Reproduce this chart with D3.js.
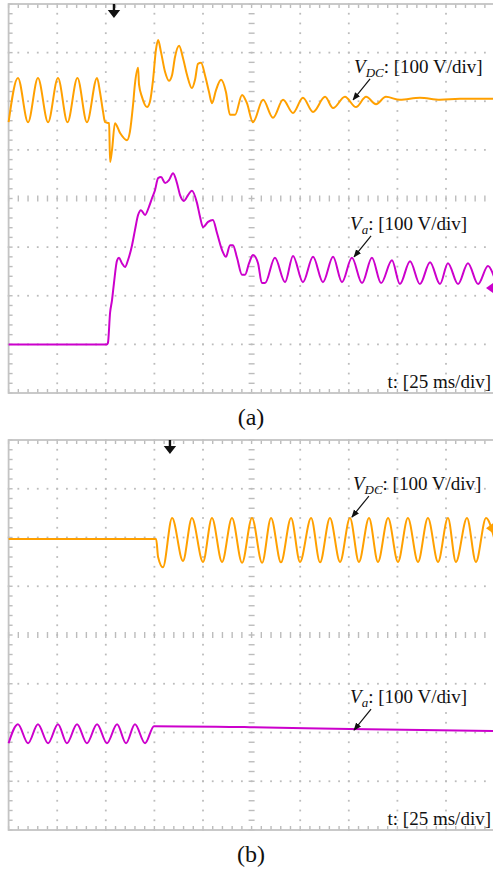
<!DOCTYPE html>
<html>
<head>
<meta charset="utf-8">
<script src="https://cdn.jsdelivr.net/npm/d3@7"></script>
<style>
  body { margin: 0; background: #fff; }
  svg { display: block; }
  text { font-family: "Liberation Serif", "Times New Roman", serif; fill: #111; }
</style>
</head>
<body>
<div id="chart"></div>
<script>
//////////////////////////////////////////////////////////////
////////////////////////// Data //////////////////////////////
//////////////////////////////////////////////////////////////

//time in ms (25 ms/div), voltage in V relative to screen centre (100 V/div)

//(a) V_DC
var aDcT = [0, 4.8, 10.0, 15.1, 20.3, 25.4, 30.3, 35.4, 40.3, 45.5,
	47.0, 48.6, 49.6, 51.7, 52.2, 53.2, 54.7, 57.3, 60.9, 62.4,
	64.0, 65.0, 66.6, 67.1, 68.6, 71.2, 72.7, 74.3, 75.8, 76.9,
	78.4, 80.5, 82.5, 84.1, 85.6, 87.7, 89.7, 91.8, 94.3, 95.9,
	97.4, 99.0, 101.0, 103.1, 104.6, 106.7, 109.3, 111.8, 113.9, 116.5,
	120.1, 122.6, 125.7, 130.9, 136.0, 141.2, 146.3, 151.4, 156.6, 162.8,
	166.9, 173.0, 178.7, 183.9, 189.0, 194.1, 201.3, 211.6, 221.9, 232.2,
	242.5, 250];
var aDcV = [157, 248, 157, 248, 157, 248, 157, 248, 157, 248,
	219, 178, 157, 155, 75, 100, 155, 135, 120, 137,
	192, 236, 269, 234, 209, 188, 199, 244, 306, 326,
	301, 260, 242, 254, 291, 314, 289, 254, 227, 244,
	277, 279, 254, 219, 196, 223, 244, 219, 172, 172,
	213, 196, 157, 203, 166, 203, 176, 207, 178, 209,
	186, 209, 188, 209, 194, 209, 203, 207, 203, 205,
	205, 205];

//(a) V_a
var aVaT = [0, 50.6, 51.1, 52.2, 53.2, 54.2, 55.8, 56.8, 58.3, 59.9,
	61.4, 63.5, 65.0, 66.6, 68.1, 70.2, 72.2, 73.8, 75.3, 76.9,
	78.4, 80.5, 82.5, 84.6, 86.6, 88.2, 90.2, 92.3, 94.3, 96.9,
	98.5, 100.0, 102.6, 105.1, 107.2, 109.8, 111.8, 113.9, 115.4, 117.5,
	120.1, 121.6, 123.7, 125.7, 128.3, 130.3, 131.9, 137.0, 142.2, 146.3,
	151.4, 156.6, 161.7, 166.9, 171.5, 176.6, 181.8, 186.9, 191.6, 197.2,
	201.3, 206.5, 211.6, 216.8, 221.9, 226.0, 231.2, 236.3, 241.5, 246.6,
	250];
var aVaV = [-300, -300, -297, -235, -209, -174, -127, -122, -133, -141,
	-127, -96, -65, -34, -24, -34, -17, 1, 17, 42,
	44, 32, 38, 52, 32, 7, -5, 7, 16, -9,
	-38, -59, -48, -44, -71, -106, -120, -96, -96, -122,
	-157, -157, -133, -116, -133, -174, -174, -122, -172, -118,
	-172, -120, -172, -120, -172, -122, -174, -122, -174, -127,
	-176, -129, -176, -131, -176, -133, -176, -133, -176, -139,
	-164];

//(b) V_DC
var bDcT = [0, 75.9, 76.9, 79.4, 84.1, 89.7,
	94.3, 100.0, 104.6, 109.8, 114.9, 120.1, 125.2, 130.4, 135.0, 140.1,
	145.3, 149.9, 155.6, 160.2, 165.3, 170.5, 175.6, 180.2, 185.4, 190.0,
	195.2, 200.3, 205.4, 210.6, 215.7, 220.9, 226.0, 230.1, 235.8, 240.4,
	245.6, 250];
var bDcV = [197, 197, 160, 139, 240, 152,
	240, 150, 240, 150, 240, 148, 240, 148, 240, 149,
	240, 150, 240, 149, 240, 150, 240, 150, 240, 150,
	240, 150, 240, 150, 240, 150, 240, 150, 240, 150,
	240, 195];

//(b) V_a
var bVaT = [0, 4.8, 10.0, 15.1, 20.3, 25.4, 30.0, 35.2, 40.3, 45.5,
	50.6, 55.8, 60.4, 65.0, 70.2, 74.8, 124.2, 175.6, 250];
var bVaV = [-222, -183, -222, -183, -222, -183, -222, -183, -222, -183,
	-222, -183, -222, -183, -222, -187, -189, -193, -197];

//annotations: arrow tip on the trace (ms, V)
var labelNames = ["DC", "a", "DC", "a"];
var labelPanel = [0, 0, 1, 1];
var labelT = [177.2, 177.7, 176.6, 177.7];
var labelV = [203, -120, 242, -195];

var triggerT = [54.2, 83];           //trigger marker per panel
var markerV = [-184, 219];           //channel reference marker per panel
var panelNames = ["(a)", "(b)"];

//////////////////////////////////////////////////////////////
///////////////////////// Set up /////////////////////////////
//////////////////////////////////////////////////////////////

var W = 493, H = 870;
var orange = "#ffa000", magenta = "#cc00cc";
var gridCol = "#bcbcbc";

var svg = d3.select("#chart").append("svg")
	.attr("width", W)
	.attr("height", H);

svg.append("rect").attr("width", W).attr("height", H).attr("fill", "#fff");

var defs = svg.append("defs");
defs.append("marker")
	.attr("id", "arrowHead")
	.attr("viewBox", "0 0 10 10")
	.attr("refX", 9).attr("refY", 5)
	.attr("markerWidth", 8).attr("markerHeight", 8)
	.attr("markerUnits", "userSpaceOnUse")
	.attr("orient", "auto")
	.append("path")
	.attr("d", "M0,1 L10,5 L0,9 Z")
	.attr("fill", "#111");

var x = d3.scaleLinear().domain([0, 250]).range([8.6, 494.6]);

var panels = [
	{ top: 4, bottom: 393, label: 425,
	  traces: [{ t: aDcT, v: aDcV, col: orange }, { t: aVaT, v: aVaV, col: magenta }],
	  markerCol: magenta },
	{ top: 440, bottom: 830, label: 862,
	  traces: [{ t: bDcT, v: bDcV, col: orange }, { t: bVaT, v: bVaV, col: magenta }],
	  markerCol: orange }
];

panels.forEach(function(p, pi) {
	var y = d3.scaleLinear().domain([-400, 400]).range([p.bottom, p.top]);
	var g = svg.append("g").attr("class", "panel" + pi);

	///////////////////////// Grid /////////////////////////
	var minorT = d3.range(0, 250.01, 5);
	var minorV = d3.range(-400, 400.01, 20);
	var majorT = d3.range(25, 250, 25);
	var majorV = d3.range(-300, 301, 100);

	var dots = g.append("g").attr("fill", gridCol);
	majorT.forEach(function(t) {
		if (t === 125) return;
		minorV.forEach(function(v) {
			dots.append("rect").attr("x", x(t) - 0.9).attr("y", y(v) - 0.9)
				.attr("width", 1.8).attr("height", 1.8);
		});
	});
	majorV.forEach(function(v) {
		if (v === 0) return;
		minorT.forEach(function(t) {
			dots.append("rect").attr("x", x(t) - 0.9).attr("y", y(v) - 0.9)
				.attr("width", 1.8).attr("height", 1.8);
		});
	});

	var ticks = g.append("g").attr("stroke", gridCol).attr("stroke-width", 1.4);
	//centre cross
	minorT.forEach(function(t) {
		ticks.append("line").attr("x1", x(t)).attr("x2", x(t))
			.attr("y1", y(0) - 3).attr("y2", y(0) + 3);
		//top and bottom edge
		ticks.append("line").attr("x1", x(t)).attr("x2", x(t))
			.attr("y1", p.top).attr("y2", p.top + 4);
		ticks.append("line").attr("x1", x(t)).attr("x2", x(t))
			.attr("y1", p.bottom - 4).attr("y2", p.bottom);
	});
	minorV.forEach(function(v) {
		ticks.append("line").attr("x1", x(125) - 3).attr("x2", x(125) + 3)
			.attr("y1", y(v)).attr("y2", y(v));
		ticks.append("line").attr("x1", x(0)).attr("x2", x(0) + 4)
			.attr("y1", y(v)).attr("y2", y(v));
	});

	g.append("rect")
		.attr("x", x(0)).attr("y", p.top)
		.attr("width", x(250) - x(0)).attr("height", p.bottom - p.top)
		.attr("fill", "none")
		.attr("stroke", "#c4c4c4")
		.attr("stroke-width", 1.8);

	//////////////////////// Traces ////////////////////////
	p.traces.forEach(function(tr) {
		var pts = tr.t.map(function(t, i) { return [t, tr.v[i]]; });
		var line = d3.line()
			.x(function(d) { return x(d[0]); })
			.y(function(d) { return y(d[1]); })
			.curve(d3.curveMonotoneX);
		g.append("path")
			.datum(pts)
			.attr("d", line)
			.attr("fill", "none")
			.attr("stroke", tr.col)
			.attr("stroke-width", 2)
			.attr("stroke-linejoin", "round");
	});

	//trigger marker
	var tx = x(triggerT[pi]);
	g.append("path")
		.attr("d", "M" + (tx - 1.2) + "," + p.top + " h2.4 v6 h5 l-6.2,8 l-6.2,-8 h5 Z")
		.attr("fill", "#111");

	//channel reference marker at right edge
	var my = y(markerV[pi]);
	g.append("path")
		.attr("d", "M486," + my + " L493," + (my - 5) + " L493," + (my + 5) + " Z")
		.attr("fill", p.markerCol);

	//time base label
	g.append("text")
		.attr("x", 491).attr("y", p.bottom - 5)
		.attr("text-anchor", "end")
		.style("font-size", "19px")
		.text("t: [25 ms/div]");

	//panel caption
	svg.append("text")
		.attr("x", 251).attr("y", p.label)
		.attr("text-anchor", "middle")
		.style("font-size", "24px")
		.text(panelNames[pi]);

	///////////////////////// Labels /////////////////////////
	labelNames.forEach(function(name, i) {
		if (labelPanel[i] !== pi) return;
		var px = x(labelT[i]), py = y(labelV[i]);
		g.append("line")
			.attr("x1", px + 17).attr("y1", py - 21)
			.attr("x2", px).attr("y2", py)
			.attr("stroke", "#111")
			.attr("stroke-width", 1.2)
			.attr("marker-end", "url(#arrowHead)");
		var txt = g.append("text")
			.attr("x", name === "DC" ? px + 1 : px - 4)
			.attr("y", py - 27)
			.style("font-size", "19px");
		txt.append("tspan").style("font-style", "italic").text("V");
		txt.append("tspan").style("font-style", "italic").style("font-size", "13px")
			.attr("dy", 4).text(name);
		txt.append("tspan").attr("dy", -4).text(": [100 V/div]");
	});
});
</script>
</body>
</html>
